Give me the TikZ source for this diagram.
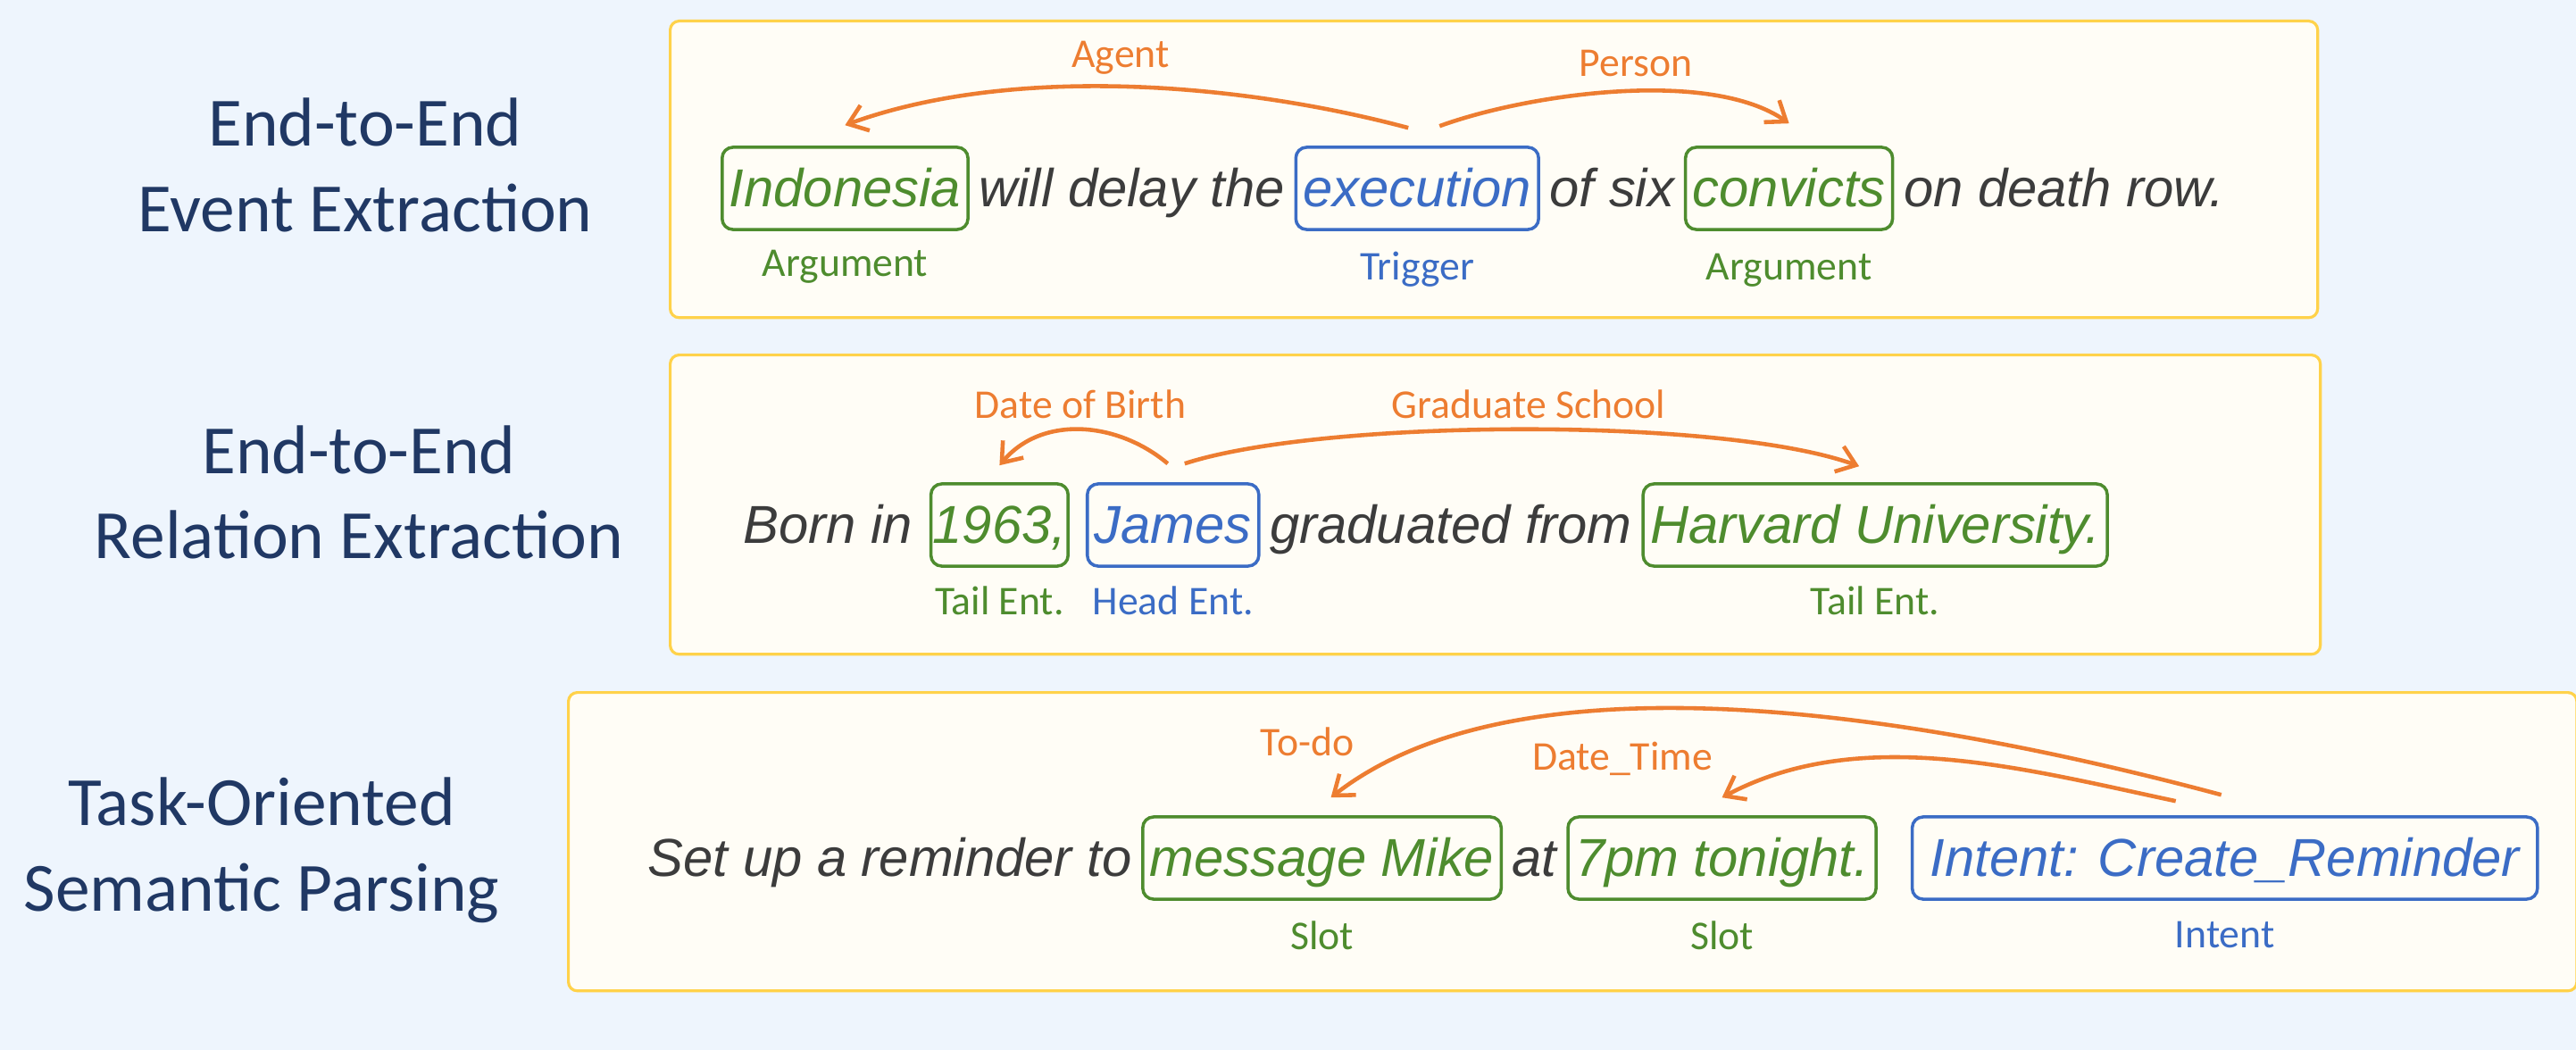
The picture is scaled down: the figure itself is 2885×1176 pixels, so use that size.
\documentclass[tikz,border=0pt]{standalone}
\usepackage{fontspec}
\setmainfont{Liberation Sans}
\newfontfamily\labelfont{Carlito}
\usetikzlibrary{positioning, arrows.meta}

\definecolor{bgblue}{HTML}{EEF5FD}
\definecolor{panelfill}{HTML}{FFFDF6}
\definecolor{panelline}{HTML}{FFD24A}
\definecolor{argGreen}{HTML}{4E8C2E}
\definecolor{trigBlue}{HTML}{3B6CC5}
\definecolor{relOrange}{HTML}{ED7D31}
\definecolor{wordGray}{HTML}{3C3C3C}
\definecolor{taskNavy}{HTML}{203864}

\begin{document}
\begin{tikzpicture}[
		x=0.01cm, y=0.01cm,
		>={Straight Barb[length=2mm, width=3mm]},
		task/.style={text=taskNavy, font=\labelfont\fontsize{22pt}{26pt}\selectfont, anchor=base, inner sep=0},
		panel/.style={draw=panelline, line width=0.9pt, fill=panelfill, rounded corners=0.1cm, anchor=north west, inner sep=0},
		word/.style={text=wordGray, font=\itshape\fontsize{17pt}{20pt}\selectfont, text height=0.53cm, text depth=0.13cm, inner ysep=0.13cm, inner xsep=0.1cm},
		argbox/.style={word, draw=argGreen, text=argGreen, line width=1pt, rounded corners=0.12cm, inner xsep=0.08cm},
		trigbox/.style={argbox, draw=trigBlue, text=trigBlue},
		arglab/.style={text=argGreen, font=\labelfont\fontsize{13pt}{15pt}\selectfont, inner sep=0, text height=0.3cm, text depth=0.08cm},
		triglab/.style={arglab, text=trigBlue},
		rel/.style={->, draw=relOrange, line width=1.3pt},
		rellab/.style={text=relOrange, font=\labelfont\fontsize{13pt}{15pt}\selectfont, anchor=base, inner sep=0}
		]
		
		\useasboundingbox (0,0) rectangle (2885,-1176);
		\fill[bgblue] (0,0) rectangle (2885,-1176);
		
		% ==========================================
		% TASK NAMES
		% ==========================================
		\node[task] (ee1) at (409,-164) {End-to-End};
		\node[task] (ee2) at (409,-259) {Event Extraction};
		\node[task] (re1) at (402,-530) {End-to-End};
		\node[task] (re2) at (402,-625) {Relation Extraction};
		\node[task] (sp1) at (293,-924) {Task-Oriented};
		\node[task] (sp2) at (293,-1020) {Semantic Parsing};
		
		% ==========================================
		% PANELS
		% ==========================================
		\node[panel, minimum width=18.44cm, minimum height=3.32cm] (p1) at (749,-22) {};
		\node[panel, minimum width=18.47cm, minimum height=3.35cm] (p2) at (749,-396) {};
		\node[panel, minimum width=22.48cm, minimum height=3.34cm] (p3) at (635,-774) {};
		
		% ==========================================
		% EVENT EXTRACTION
		% ==========================================
		\node[argbox, anchor=west] (indo) at (807,-211) {Indonesia};
		\node[word, right=0pt of indo] (w1a) {will delay the};
		\node[trigbox, right=0pt of w1a] (exec) {execution};
		\node[word, right=0pt of exec] (w1b) {of six};
		\node[argbox, right=0pt of w1b] (conv) {convicts};
		\node[word, right=0pt of conv] (w1c) {on death row.};
		
		\node[arglab, below=0.2cm of indo] (indoLab) {Argument};
		\node[triglab, below=0.24cm of exec] (execLab) {Trigger};
		\node[arglab, below=0.24cm of conv] (convLab) {Argument};
		
		\node[rellab] (agentLab) at (1255,-76) {Agent};
		\node[rellab] (personLab) at (1832,-86) {Person};
		
		\draw[rel] ([xshift=-0.1cm, yshift=0.2cm]exec.north) to[out=165, in=20, looseness=0.8] ([yshift=0.23cm]indo.north);
		\draw[rel] ([xshift=0.25cm, yshift=0.22cm]exec.north) to[out=20, in=145, looseness=0.7] ([yshift=0.25cm]conv.north);
		
		% ==========================================
		% RELATION EXTRACTION
		% ==========================================
		\node[word, anchor=west] (w2a) at (822,-588) {Born in};
		\node[argbox, right=0.08cm of w2a, inner xsep=0.02cm] (year) {1963,};
		\node[trigbox, right=0.18cm of year] (james) {James};
		\node[word, right=0pt of james] (w2b) {graduated from};
		\node[argbox, right=0pt of w2b] (harv) {Harvard University.};
		
		\node[arglab, below=0.22cm of year] (yearLab) {Tail Ent.};
		\node[triglab, below=0.22cm of james] (jamesLab) {Head Ent.};
		\node[arglab, below=0.22cm of harv] (harvLab) {Tail Ent.};
		
		\node[rellab] (dobLab) at (1210,-468) {Date of Birth};
		\node[rellab] (gradLab) at (1712,-468) {Graduate School};
		
		\draw[rel] ([xshift=-0.06cm, yshift=0.21cm]james.north) to[out=140, in=50] ([yshift=0.19cm]year.north);
		\draw[rel] ([xshift=0.13cm, yshift=0.21cm]james.north) to[out=18, in=160, looseness=0.55] ([xshift=-0.18cm, yshift=0.18cm]harv.north);
		
		% ==========================================
		% SEMANTIC PARSING
		% ==========================================
		\node[word, anchor=west] (w3a) at (715,-961) {Set up a reminder to};
		\node[argbox, right=0pt of w3a] (msg) {message Mike};
		\node[word, right=0pt of msg] (w3b) {at};
		\node[argbox, right=0pt of w3b] (pm) {7pm tonight.};
		\node[trigbox, right=0.37cm of pm, inner xsep=0.2cm] (intent) {Intent: Create\_Reminder};
		
		\node[arglab, below=0.24cm of msg] (msgLab) {Slot};
		\node[arglab, below=0.24cm of pm] (pmLab) {Slot};
		\node[triglab, below=0.22cm of intent] (intentLab) {Intent};
		
		\node[rellab] (todoLab) at (1464,-846) {To-do};
		\node[rellab] (dtLab) at (1817,-862) {Date\_Time};
		
		\draw[rel] ([xshift=-0.04cm, yshift=0.23cm]intent.north) to[out=165, in=38, looseness=0.74] ([xshift=0.1cm, yshift=0.2cm]msg.north);
		\draw[rel] ([xshift=-0.55cm, yshift=0.16cm]intent.north) to[out=168, in=28, looseness=0.88] ([yshift=0.2cm]pm.north);
		
	\end{tikzpicture}
\end{document}
